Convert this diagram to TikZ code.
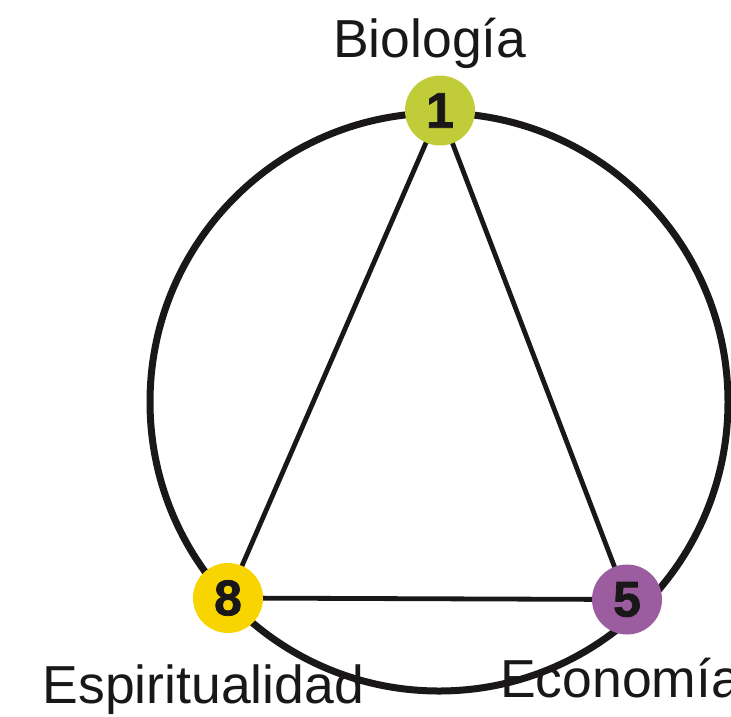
\documentclass[tikz,border=0pt]{standalone}
\usepackage{fontspec}
\setmainfont{Liberation Sans}
\newfontfamily\heavyfont[FakeBold=1.5]{Liberation Sans Bold}
\usetikzlibrary{backgrounds}
\definecolor{ink}{HTML}{1A1718}
\definecolor{cbio}{HTML}{C0CC38}
\definecolor{cesp}{HTML}{F8D500}
\definecolor{ceco}{HTML}{9B5DA0}
\tikzset{
  ring/.style={circle, draw=ink, line width=7pt, minimum size=578pt, inner sep=0pt},
  dot/.style={circle, minimum size=70pt, inner sep=0pt, text=ink,
    font=\fontsize{50}{50}\heavyfont},
  side/.style={draw=ink, line width=4.8pt},
  lbl/.style={anchor=base west, inner sep=0pt, text=ink, font=\fontsize{53.5}{53.5}\selectfont}
}
\begin{document}
\begin{tikzpicture}[x=1pt,y=-1pt]
\useasboundingbox (0,0) rectangle (731,716);
\clip (0,0) rectangle (731,716);
\node[ring] (ring) at (439,402) {};
\node[dot, fill=cbio] (n1) at (440,110.5) {1};
\node[dot, fill=cesp] (n8) at (228,598) {8};
\node[dot, fill=ceco] (n5) at (627,599.5) {5};
\begin{scope}[on background layer]
\draw[side] (n1.center) -- (n8.center);
\draw[side] (n1.center) -- (n5.center);
\draw[side] (n8.center) -- (n5.center);
\end{scope}
\node[lbl] (tbio) at (333,57) {Biología};
\node[lbl] (tesp) at (42.5,703) {Espiritualidad};
\node[lbl] (teco) at (500,697) {Economía};
\end{tikzpicture}
\end{document}
